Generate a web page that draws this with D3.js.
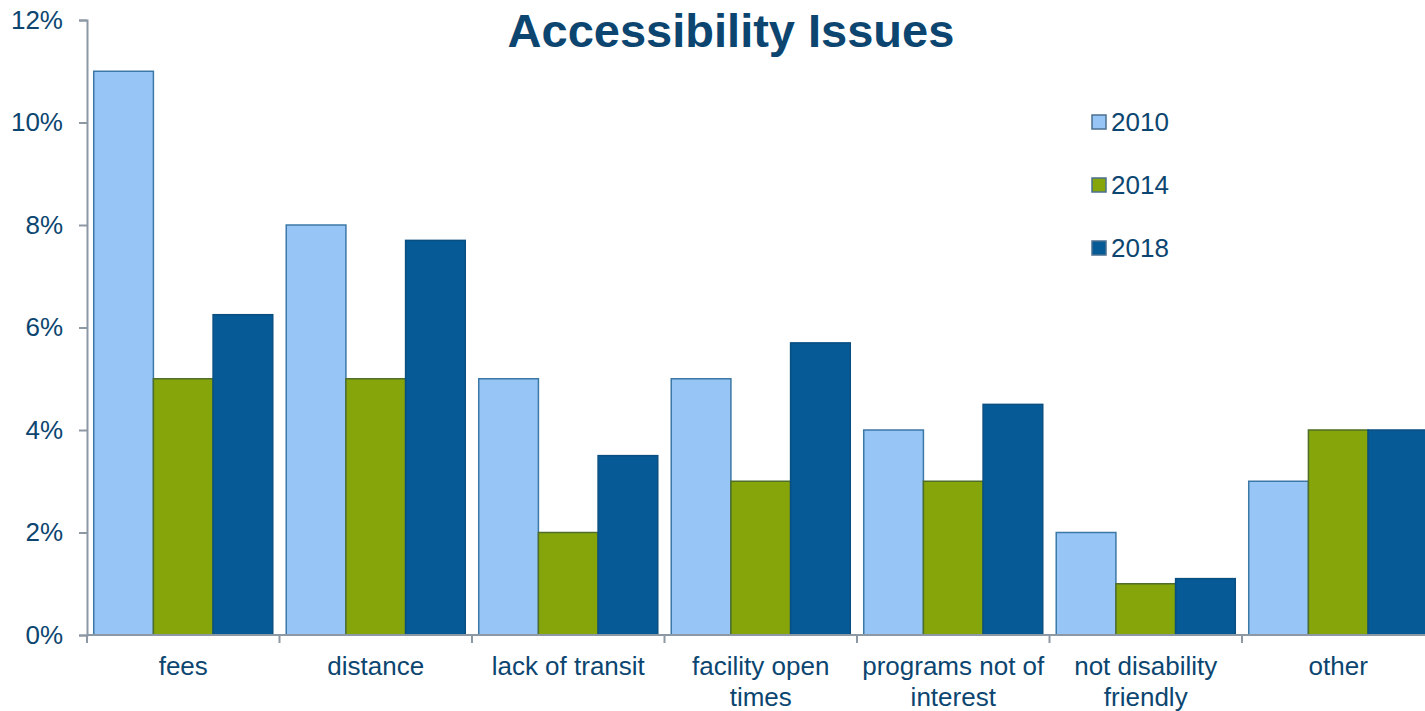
<!DOCTYPE html>
<html>
<head>
<meta charset="utf-8">
<script src="https://cdn.jsdelivr.net/npm/d3@7"></script>
<style>
  body { margin: 0; background: #fff; }
  svg { font-family: "Liberation Sans", Arial, sans-serif; }
</style>
</head>
<body>
<div id="vis"></div>
<script>
const width = 1425;
const height = 711;

// data
const categories = ["fees", "distance", "lack of transit", "facility open times",
    "programs not of interest", "not disability friendly", "other"];
const years = ["2010", "2014", "2018"];
const values2010 = [11, 8, 5, 5, 4, 2, 3];
const values2014 = [5, 5, 2, 3, 3, 1, 4];
const values2018 = [6.25, 7.7, 3.5, 5.7, 4.5, 1.1, 4];
const yTicks = [0, 2, 4, 6, 8, 10, 12];
// label lines for wrapped category names
const labelLines = [["fees"], ["distance"], ["lack of transit"], ["facility open", "times"],
    ["programs not of", "interest"], ["not disability", "friendly"], ["other"]];

const series = [values2010, values2014, values2018];
const fills = ["#97c5f5", "#86a50a", "#065a96"];
const strokes = ["#3c78a6", "#4f6e2a", "#0a4f82"];
const textColor = "#0c4670";
const axisColor = "#8c98a4";

let svg = d3.select("#vis")
    .append("svg")
    .attr("width", width)
    .attr("height", height);

//scales
let xScale = d3.scaleBand()
    .domain(categories)
    .range([87, 87 + 7 * 192.5])
    .paddingInner(0.07)
    .paddingOuter(0.035);

let xInner = d3.scaleBand()
    .domain(years)
    .range([0, xScale.bandwidth()]);

let yScale = d3.scaleLinear()
    .domain([0, 12])
    .range([635, 20]);

//bars
let groups = svg.selectAll(".grp")
    .data(categories)
    .enter()
    .append("g")
    .attr("class", "grp")
    .attr("transform", d => "translate(" + xScale(d) + ",0)");

groups.selectAll("rect")
    .data((d, i) => years.map((y, j) => ({ year: y, j: j, value: series[j][i] })))
    .enter()
    .append("rect")
    .attr("x", d => xInner(d.year))
    .attr("width", xInner.bandwidth())
    .attr("y", d => yScale(d.value))
    .attr("height", d => yScale(0) - yScale(d.value))
    .attr("fill", d => fills[d.j])
    .attr("stroke", d => strokes[d.j])
    .attr("stroke-width", 1.5);

//y axis
let yAxis = svg.append("g")
    .attr("transform", "translate(87,0)")
    .call(d3.axisLeft(yScale).tickValues(yTicks).tickFormat(d => d + "%").tickSize(8).tickPadding(16));
yAxis.select(".domain").attr("stroke", axisColor).attr("stroke-width", 2);
yAxis.selectAll(".tick line").attr("stroke", axisColor).attr("stroke-width", 2);
yAxis.selectAll(".tick text")
    .attr("fill", textColor)
    .style("font-size", "26px")
    .style("font-family", "Liberation Sans, Arial, sans-serif");

//x axis line with ticks at group boundaries
let xBase = svg.append("g");
xBase.append("line")
    .attr("x1", 87).attr("x2", width)
    .attr("y1", yScale(0)).attr("y2", yScale(0))
    .attr("stroke", axisColor).attr("stroke-width", 2);
xBase.selectAll(".xt")
    .data(d3.range(categories.length + 1))
    .enter()
    .append("line")
    .attr("x1", i => 87 + i * xScale.step())
    .attr("x2", i => 87 + i * xScale.step())
    .attr("y1", yScale(0))
    .attr("y2", yScale(0) + 8)
    .attr("stroke", axisColor).attr("stroke-width", 2);

//category labels
svg.selectAll(".xlab")
    .data(categories)
    .enter()
    .append("text")
    .attr("class", "xlab")
    .attr("text-anchor", "middle")
    .attr("fill", textColor)
    .style("font-size", "26px")
    .attr("x", d => xScale(d) + xScale.bandwidth() / 2)
    .attr("y", 675)
    .each(function (d, i) {
        let t = d3.select(this);
        labelLines[i].forEach((line, k) => {
            t.append("tspan")
                .attr("x", xScale(d) + xScale.bandwidth() / 2)
                .attr("dy", k === 0 ? 0 : 31)
                .text(line);
        });
    });

//title
svg.append("text")
    .attr("x", 731)
    .attr("y", 47)
    .attr("text-anchor", "middle")
    .attr("fill", textColor)
    .style("font-size", "47px")
    .style("font-weight", "bold")
    .text("Accessibility Issues");

//legend
let legend = svg.selectAll(".leg")
    .data(years)
    .enter()
    .append("g")
    .attr("class", "leg")
    .attr("transform", (d, i) => "translate(1092," + (122 + i * 63) + ")");
legend.append("rect")
    .attr("x", 0).attr("y", -7)
    .attr("width", 14).attr("height", 14)
    .attr("fill", (d, i) => fills[i])
    .attr("stroke", "#4a7090").attr("stroke-width", 1.5);
legend.append("text")
    .attr("x", 19).attr("y", 9)
    .attr("fill", textColor)
    .style("font-size", "26px")
    .text(d => d);
</script>
</body>
</html>
